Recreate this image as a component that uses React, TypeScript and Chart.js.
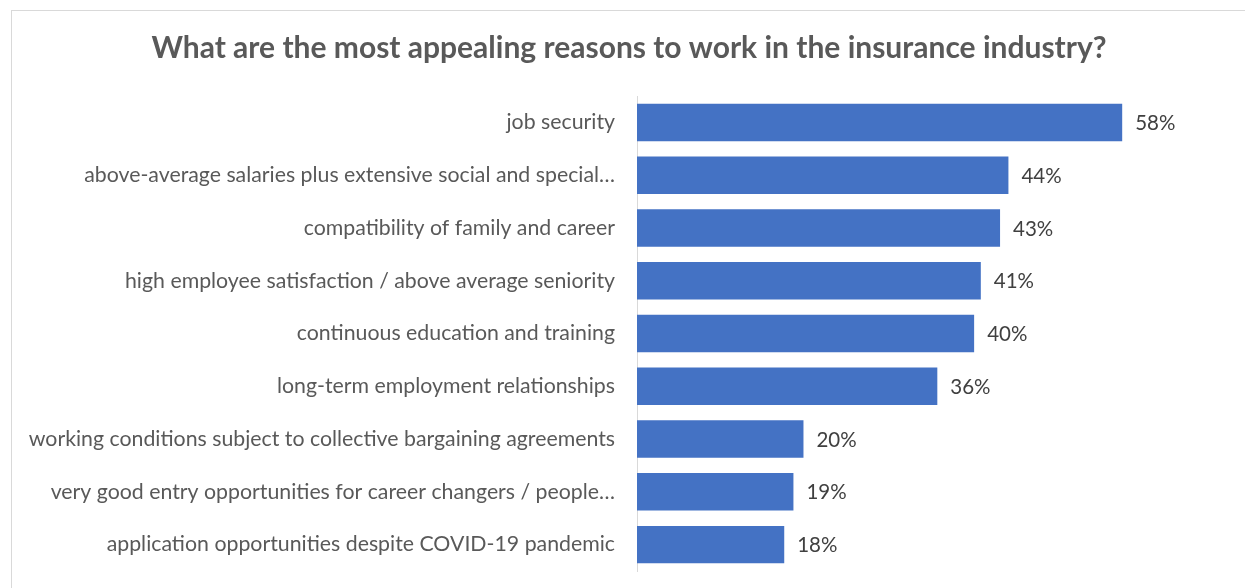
import React, { useEffect, useRef } from "react";
import { Chart, registerables } from "chart.js";

Chart.register(...registerables);

const TITLE = "What are the most appealing reasons to work in the insurance industry?";

const categories: string[] = [
  "job security",
  "above-average salaries plus extensive social and special…",
  "compatibility of family and career",
  "high employee satisfaction / above average seniority",
  "continuous education and training",
  "long-term employment relationships",
  "working conditions subject to collective bargaining agreements",
  "very good entry opportunities for career changers / people…",
  "application opportunities despite COVID-19 pandemic",
];

const values: number[] = [58, 44.4, 43.4, 41.1, 40.3, 35.9, 19.9, 18.7, 17.6];

const xMax = 72.8;

const FONT = "Lato";

const dataLabelPlugin = {
  id: "dataLabels",
  afterDatasetsDraw(chart: any) {
    const ctx = chart.ctx;
    const meta = chart.getDatasetMeta(0);
    ctx.save();
    ctx.font = `20.5px ${FONT}`;
    ctx.fillStyle = "#404040";
    ctx.textAlign = "left";
    ctx.textBaseline = "middle";
    meta.data.forEach((bar: any, i: number) => {
      ctx.fillText(`${Math.round(values[i])}%`, bar.x + 13, bar.y + 1);
    });
    ctx.restore();
  },
};

export default function App() {
  const canvasRef = useRef<HTMLCanvasElement | null>(null);

  useEffect(() => {
    if (!canvasRef.current) return;
    const chart = new Chart(canvasRef.current, {
      type: "bar",
      data: {
        labels: categories,
        datasets: [
          {
            data: values,
            backgroundColor: "#4472C4",
            borderWidth: 0,
            barPercentage: 0.71,
            categoryPercentage: 1,
          },
        ],
      },
      options: {
        indexAxis: "y",
        animation: false,
        responsive: false,
        maintainAspectRatio: false,
        layout: { padding: { left: 0, right: 0, top: 0, bottom: 17 } },
        plugins: {
          legend: { display: false },
          tooltip: { enabled: false },
          title: {
            display: true,
            text: TITLE,
            color: "#595959",
            font: { family: FONT, size: 30, weight: "bold" },
            padding: { top: 19.2, bottom: 29.8 },
          },
        },
        scales: {
          x: {
            display: false,
            min: 0,
            max: xMax,
          },
          y: {
            afterFit: (scale: any) => {
              scale.width = 625;
              scale.paddingTop = 0;
              scale.paddingBottom = 0;
            },
            grid: { display: false, drawTicks: false },
            border: { display: true, color: "#d9d9d9", width: 1 },
            ticks: {
              color: "#595959",
              font: { family: FONT, size: 21.3 },
              padding: 22,
              autoSkip: false,
            },
          },
        },
      },
      plugins: [dataLabelPlugin],
    });
    return () => chart.destroy();
  }, []);

  return (
    <div style={{ position: "fixed", inset: 0, overflow: "hidden", background: "#ffffff" }}>
      <div
        style={{
          position: "absolute",
          left: 11,
          top: 10,
          width: 1234,
          height: 577,
          borderTop: "1px solid #d9d9d9",
          borderLeft: "1px solid #d9d9d9",
        }}
      >
        <canvas ref={canvasRef} width={1234} height={577} style={{ display: "block" }} />
      </div>
    </div>
  );
}
